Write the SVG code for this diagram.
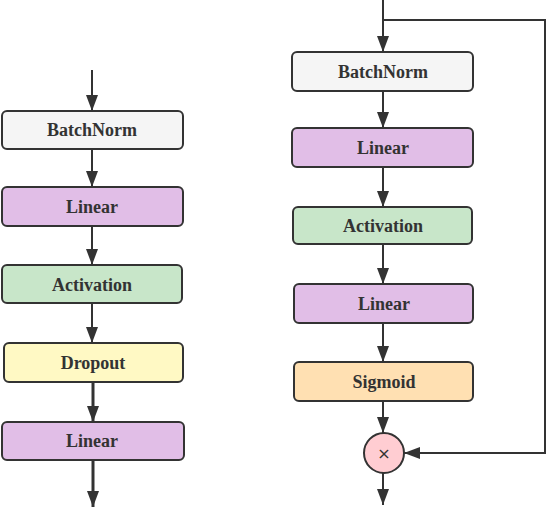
<svg xmlns="http://www.w3.org/2000/svg" width="548" height="508" viewBox="0 0 548 508">
<defs>
<marker id="ah" viewBox="0 0 16 12" refX="16" refY="6" markerWidth="16" markerHeight="12" markerUnits="userSpaceOnUse" orient="auto"><path d="M0,0 L16,6 L0,12 z" fill="#333"/></marker>
<style>
.box{stroke:#333;stroke-width:2}
.lbl{font-family:"Liberation Serif",serif;font-weight:bold;font-size:18px;fill:#333;text-anchor:middle}
.edge{stroke:#333;stroke-width:2;fill:none}
.thick{stroke-width:3}
</style>
</defs>
<rect width="548" height="508" fill="#fff"/>
<g id="connectors">
<line class="edge" x1="92" y1="70" x2="92" y2="111" marker-end="url(#ah)"/>
<line class="edge" x1="92" y1="149" x2="92" y2="187" marker-end="url(#ah)"/>
<line class="edge" x1="92" y1="226" x2="92" y2="265" marker-end="url(#ah)"/>
<line class="edge" x1="92" y1="303" x2="92" y2="343" marker-end="url(#ah)"/>
<line class="edge thick" x1="93" y1="382" x2="93" y2="422" marker-end="url(#ah)"/>
<line class="edge thick" x1="93" y1="460" x2="93" y2="507" marker-end="url(#ah)"/>
<line class="edge" x1="383" y1="0" x2="383" y2="52" marker-end="url(#ah)"/>
<line class="edge" x1="383" y1="91" x2="383" y2="128" marker-end="url(#ah)"/>
<line class="edge" x1="383" y1="167" x2="383" y2="207" marker-end="url(#ah)"/>
<line class="edge" x1="383" y1="244" x2="383" y2="284" marker-end="url(#ah)"/>
<line class="edge" x1="383" y1="323" x2="383" y2="362" marker-end="url(#ah)"/>
<line class="edge" x1="383" y1="401" x2="383" y2="433" marker-end="url(#ah)"/>
<line class="edge" x1="383" y1="473" x2="383" y2="505" marker-end="url(#ah)"/>
<path class="edge" d="M383,20 H545 V453 H404" marker-end="url(#ah)"/>
</g>
<g id="l_batchnorm"><rect class="box" x="2" y="111" width="181" height="38" rx="5" fill="#f5f5f5"/><text class="lbl" x="92" y="136">BatchNorm</text></g>
<g id="l_linear1"><rect class="box" x="2" y="187" width="181" height="39" rx="5" fill="#e1bee7"/><text class="lbl" x="92" y="213">Linear</text></g>
<g id="l_activation"><rect class="box" x="2" y="265" width="180" height="38" rx="5" fill="#c8e6c9"/><text class="lbl" x="92" y="291">Activation</text></g>
<g id="l_dropout"><rect class="box" x="4" y="343" width="179" height="39" rx="5" fill="#fff9c4"/><text class="lbl" x="93" y="369">Dropout</text></g>
<g id="l_linear2"><rect class="box" x="2" y="422" width="182" height="38" rx="5" fill="#e1bee7"/><text class="lbl" x="92" y="447">Linear</text></g>
<g id="r_batchnorm"><rect class="box" x="292" y="52" width="181" height="39" rx="5" fill="#f5f5f5"/><text class="lbl" x="383" y="78">BatchNorm</text></g>
<g id="r_linear1"><rect class="box" x="292" y="128" width="181" height="39" rx="5" fill="#e1bee7"/><text class="lbl" x="383" y="154">Linear</text></g>
<g id="r_activation"><rect class="box" x="293" y="207" width="179" height="37" rx="5" fill="#c8e6c9"/><text class="lbl" x="383" y="232">Activation</text></g>
<g id="r_linear2"><rect class="box" x="294" y="284" width="179" height="39" rx="5" fill="#e1bee7"/><text class="lbl" x="384" y="310">Linear</text></g>
<g id="r_sigmoid"><rect class="box" x="294" y="362" width="179" height="39" rx="5" fill="#ffe0b2"/><text class="lbl" x="384" y="388">Sigmoid</text></g>
<g id="r_mul"><circle class="box" cx="384" cy="453" r="20" fill="#ffcdd2"/><text x="384" y="459" font-family="'DejaVu Sans',sans-serif" font-size="16" fill="#333" text-anchor="middle">×</text></g>
</svg>
